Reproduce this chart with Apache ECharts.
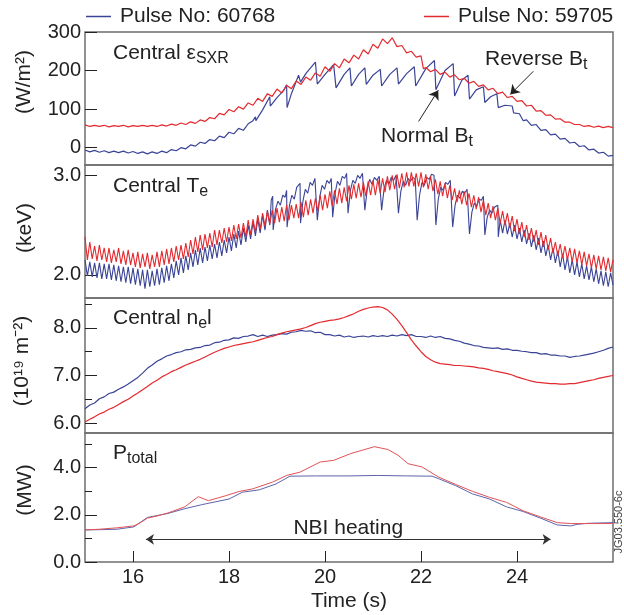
<!DOCTYPE html>
<html><head><meta charset="utf-8">
<script src="https://cdn.jsdelivr.net/npm/echarts@6/dist/echarts.min.js"></script>
<style>html,body{margin:0;padding:0;background:#fff}#c{width:624px;height:615px}</style>
</head><body><div id="c"></div>
<script>
const FONT = "'Liberation Sans', Arial, Helvetica, sans-serif";
const BLUE = '#3a4496', RED = '#e32a2f';
const nameBlue = 'Pulse No: 60768', nameRed = 'Pulse No: 59705';

const timeTicks = [16, 18, 20, 22, 24];
const sxrTicks = [0, 100, 200, 300];
const teTicks = [2.0, 3.0];
const neTicks = [6.0, 7.0, 8.0];
const neMinor = [6.5, 7.5, 8.5];
const pTicks = [0.0, 2.0, 4.0];
const pMinor = [1, 3, 5];

const sxrRed = [[15.0,59],[15.1,55],[15.2,58],[15.3,55],[15.4,58],[15.5,54],[15.6,57],[15.7,55],[15.8,58],[15.9,54],[16.0,57],[16.1,55],[16.2,58],[16.3,55],[16.4,58],[16.5,55],[16.6,59],[16.7,56],[16.8,61],[16.9,58],[17.0,64],[17.1,60],[17.2,67],[17.3,63],[17.4,72],[17.5,68],[17.6,78],[17.7,75],[17.8,89],[17.9,85],[18.0,99],[18.1,93],[18.2,106],[18.3,100],[18.4,116],[18.5,110],[18.6,128],[18.7,120],[18.8,140],[18.9,133],[19.0,152],[19.1,142],[19.2,162],[19.3,153],[19.4,173],[19.5,164],[19.6,183],[19.7,175],[19.8,194],[19.9,185],[20.0,210],[20.1,198],[20.2,218],[20.3,207],[20.4,230],[20.5,220],[20.6,240],[20.7,230],[20.8,254],[20.9,243],[21.0,268],[21.1,258],[21.2,282],[21.3,270],[21.4,285],[21.5,262],[21.6,265],[21.7,246],[21.8,250],[21.9,235],[22.0,238],[22.05,205],[22.1,208],[22.2,197],[22.3,203],[22.4,190],[22.5,196],[22.6,183],[22.7,189],[22.8,176],[22.9,180],[23.0,167],[23.1,172],[23.2,159],[23.3,163],[23.4,150],[23.5,154],[23.6,140],[23.7,144],[23.8,130],[23.9,133],[24.0,120],[24.1,122],[24.2,108],[24.3,110],[24.4,95],[24.5,96],[24.6,84],[24.7,85],[24.8,74],[24.9,75],[25.0,66],[25.1,66],[25.2,60],[25.3,60],[25.4,55],[25.5,57],[25.6,53],[25.7,56],[25.8,52],[25.9,55],[26.0,52]];

const sxrBlue = [[15.0,-6],[15.1,-11],[15.2,-7],[15.3,-12],[15.4,-8],[15.5,-13],[15.6,-9],[15.7,-13],[15.8,-9],[15.9,-14],[16.0,-10],[16.1,-15],[16.2,-11],[16.3,-16],[16.4,-11],[16.5,-15],[16.6,-9],[16.7,-13],[16.8,-5],[16.9,-8],[17.0,0],[17.1,-3],[17.2,7],[17.3,4],[17.4,14],[17.5,11],[17.6,21],[17.7,18],[17.8,30],[17.9,26],[18.0,40],[18.1,36],[18.2,50],[18.3,45],[18.4,62],[18.5,70],[18.55,80],[18.56,70],[18.7,98],[18.85,132],[18.86,108],[19.0,130],[19.15,150],[19.2,163],[19.21,104],[19.3,140],[19.45,188],[19.48,192],[19.49,170],[19.6,192],[19.8,222],[19.83,224],[19.84,165],[20.0,190],[20.18,215],[20.22,218],[20.23,155],[20.4,190],[20.52,207],[20.54,209],[20.55,160],[20.7,190],[20.83,207],[20.85,208],[20.86,164],[21.0,188],[21.15,203],[21.17,204],[21.18,160],[21.35,190],[21.5,207],[21.52,208],[21.53,165],[21.7,192],[21.86,210],[21.88,212],[21.89,160],[22.1,205],[22.28,226],[22.3,228],[22.31,150],[22.5,200],[22.67,218],[22.69,220],[22.7,134],[22.85,175],[22.98,188],[23.0,190],[23.01,126],[23.15,150],[23.3,158],[23.32,160],[23.33,117],[23.45,132],[23.58,140],[23.6,143],[23.61,104],[23.75,110],[23.9,108],[23.92,112],[23.93,90],[24.05,88],[24.13,70],[24.2,72],[24.3,58],[24.4,60],[24.5,45],[24.6,47],[24.7,33],[24.8,35],[24.9,22],[25.0,24],[25.1,12],[25.2,14],[25.3,3],[25.4,5],[25.5,-6],[25.6,-4],[25.7,-14],[25.8,-12],[25.9,-22],[26.0,-20]];

const teRed = [[15.00,2.38],[15.05,2.15],[15.10,2.33],[15.15,2.16],[15.20,2.29],[15.25,2.14],[15.30,2.30],[15.35,2.15],[15.40,2.27],[15.45,2.13],[15.50,2.27],[15.55,2.12],[15.60,2.25],[15.65,2.13],[15.70,2.27],[15.75,2.11],[15.80,2.24],[15.85,2.10],[15.90,2.25],[15.95,2.10],
[16.00,2.22],[16.05,2.08],[16.10,2.23],[16.15,2.07],[16.20,2.21],[16.25,2.08],[16.30,2.22],[16.35,2.06],[16.40,2.20],[16.45,2.08],[16.50,2.23],[16.55,2.08],[16.60,2.24],[16.65,2.10],[16.70,2.26],[16.75,2.11],[16.80,2.27],[16.85,2.13],[16.90,2.29],[16.95,2.15],
[17.00,2.30],[17.05,2.16],[17.10,2.32],[17.15,2.18],[17.20,2.35],[17.25,2.21],[17.30,2.38],[17.35,2.23],[17.40,2.40],[17.45,2.25],[17.50,2.41],[17.55,2.27],[17.60,2.42],[17.65,2.28],[17.70,2.45],[17.75,2.30],[17.80,2.45],[17.85,2.32],[17.90,2.47],[17.95,2.33],
[18.00,2.48],[18.05,2.34],[18.10,2.50],[18.15,2.36],[18.20,2.51],[18.25,2.37],[18.30,2.52],[18.35,2.38],[18.40,2.55],[18.45,2.40],[18.50,2.56],[18.55,2.43],[18.60,2.60],[18.65,2.46],[18.70,2.62],[18.75,2.49],[18.80,2.64],[18.85,2.51],[18.90,2.65],[18.95,2.52],
[19.00,2.67],[19.05,2.53],[19.10,2.68],[19.15,2.54],[19.20,2.70],[19.25,2.55],[19.30,2.70],[19.35,2.57],[19.40,2.71],[19.45,2.57],[19.50,2.73],[19.55,2.58],[19.60,2.75],[19.65,2.60],[19.70,2.76],[19.75,2.62],[19.80,2.77],[19.85,2.64],[19.90,2.80],[19.95,2.65],
[20.00,2.81],[20.05,2.67],[20.10,2.84],[20.15,2.69],[20.20,2.85],[20.25,2.71],[20.30,2.87],[20.35,2.72],[20.40,2.88],[20.45,2.74],[20.50,2.90],[20.55,2.76],[20.60,2.91],[20.65,2.77],[20.70,2.92],[20.75,2.78],[20.80,2.93],[20.85,2.79],[20.90,2.94],[20.95,2.80],
[21.00,2.95],[21.05,2.80],[21.10,2.96],[21.15,2.82],[21.20,2.97],[21.25,2.83],[21.30,2.99],[21.35,2.85],[21.40,3.00],[21.45,2.86],[21.50,3.01],[21.55,2.87],[21.60,3.02],[21.65,2.88],[21.70,3.03],[21.75,2.89],[21.80,3.03],[21.85,2.89],[21.90,3.02],[21.95,2.89],
[22.00,3.03],[22.05,2.88],[22.10,3.01],[22.15,2.86],[22.20,2.99],[22.25,2.84],[22.30,2.96],[22.35,2.81],[22.40,2.94],[22.45,2.79],[22.50,2.92],[22.55,2.77],[22.60,2.90],[22.65,2.75],[22.70,2.87],[22.75,2.73],[22.80,2.85],[22.85,2.71],[22.90,2.84],[22.95,2.70],
[23.00,2.82],[23.05,2.68],[23.10,2.80],[23.15,2.66],[23.20,2.78],[23.25,2.63],[23.30,2.75],[23.35,2.60],[23.40,2.72],[23.45,2.57],[23.50,2.69],[23.55,2.55],[23.60,2.67],[23.65,2.52],[23.70,2.64],[23.75,2.50],[23.80,2.62],[23.85,2.47],[23.90,2.59],[23.95,2.44],
[24.00,2.56],[24.05,2.41],[24.10,2.53],[24.15,2.38],[24.20,2.50],[24.25,2.35],[24.30,2.47],[24.35,2.33],[24.40,2.45],[24.45,2.30],[24.50,2.43],[24.55,2.28],[24.60,2.40],[24.65,2.25],[24.70,2.37],[24.75,2.22],[24.80,2.33],[24.85,2.19],[24.90,2.31],[24.95,2.17],
[25.00,2.29],[25.05,2.15],[25.10,2.27],[25.15,2.13],[25.20,2.26],[25.25,2.12],[25.30,2.24],[25.35,2.10],[25.40,2.23],[25.45,2.09],[25.50,2.21],[25.55,2.07],[25.60,2.20],[25.65,2.06],[25.70,2.19],[25.75,2.05],[25.80,2.18],[25.85,2.04],[25.90,2.17],[25.95,2.03],[26.00,2.15]];

const teBlue = [[15.00,2.15],[15.05,1.99],[15.10,2.13],[15.15,1.98],[15.20,2.12],[15.25,1.97],[15.30,2.12],[15.35,1.96],[15.40,2.11],[15.45,1.96],[15.50,2.11],[15.55,1.95],[15.60,2.10],[15.65,1.94],[15.70,2.09],[15.75,1.93],[15.80,2.08],[15.85,1.92],[15.90,2.08],[15.95,1.91],
[16.00,2.07],[16.05,1.90],[16.10,2.06],[16.15,1.89],[16.20,2.05],[16.25,1.86],[16.30,2.05],[16.35,1.88],[16.40,2.04],[16.45,1.89],[16.50,2.06],[16.55,1.90],[16.60,2.07],[16.65,1.92],[16.70,2.09],[16.75,1.94],[16.80,2.11],[16.85,1.97],[16.90,2.14],[16.95,2.00],
[17.00,2.17],[17.05,2.02],[17.10,2.19],[17.15,2.05],[17.20,2.22],[17.25,2.08],[17.30,2.25],[17.35,2.10],[17.40,2.27],[17.45,2.12],[17.50,2.28],[17.55,2.14],[17.60,2.30],[17.65,2.16],[17.70,2.31],[17.75,2.17],[17.80,2.33],[17.85,2.19],[17.90,2.35],[17.95,2.22],
[18.00,2.38],[18.05,2.24],[18.10,2.41],[18.15,2.27],[18.20,2.44],[18.25,2.30],[18.30,2.47],[18.35,2.33],[18.40,2.50],[18.45,2.36],[18.50,2.53],[18.55,2.39],[18.60,2.56],[18.65,2.42],[18.70,2.60],[18.75,2.45],[18.80,2.65],[18.85,2.50],[18.88,2.75],[18.91,2.79],[18.92,2.45],
[18.97,2.66],[19.02,2.74],[19.07,2.70],[19.12,2.80],[19.17,2.78],[19.20,2.85],[19.21,2.48],
[19.26,2.70],[19.31,2.80],[19.36,2.76],[19.41,2.88],[19.45,2.86],[19.48,2.92],[19.49,2.52],
[19.54,2.74],[19.59,2.86],[19.64,2.82],[19.69,2.93],[19.74,2.90],[19.79,2.97],[19.83,2.99],[19.84,2.55],
[19.89,2.78],[19.94,2.90],[19.99,2.86],[20.04,2.95],[20.09,2.92],[20.13,2.97],[20.15,2.97],[20.16,2.58],
[20.21,2.82],[20.26,2.94],[20.31,2.90],[20.36,2.99],[20.41,2.97],[20.45,3.02],[20.47,3.02],[20.48,2.62],
[20.53,2.85],[20.58,2.95],[20.63,2.92],[20.68,3.00],[20.73,2.97],[20.78,3.02],[20.82,3.02],[20.83,2.65],
[20.88,2.86],[20.93,2.96],[20.98,2.91],[21.03,2.98],[21.08,2.95],[21.13,2.99],[21.17,2.99],[21.18,2.65],
[21.23,2.86],[21.28,2.95],[21.33,2.91],[21.38,2.98],[21.43,2.95],[21.48,3.00],[21.52,2.99],[21.53,2.62],
[21.58,2.84],[21.63,2.94],[21.68,2.90],[21.73,2.97],[21.78,2.94],[21.83,2.98],[21.88,2.96],[21.91,2.97],[21.92,2.55],
[21.97,2.80],[22.02,2.93],[22.07,2.90],[22.12,2.98],[22.17,2.96],[22.22,3.01],[22.27,3.00],[22.30,3.02],[22.31,2.50],
[22.36,2.76],[22.41,2.88],[22.46,2.85],[22.51,2.93],[22.56,2.91],[22.61,2.95],[22.65,2.96],[22.66,2.48],
[22.71,2.70],[22.76,2.80],[22.81,2.77],[22.86,2.84],[22.91,2.82],[22.96,2.86],[23.00,2.87],[23.01,2.41],
[23.06,2.63],[23.11,2.72],[23.16,2.69],[23.21,2.76],[23.26,2.75],[23.30,2.79],[23.32,2.80],[23.33,2.40],
[23.38,2.58],[23.43,2.65],[23.48,2.62],[23.53,2.68],[23.57,2.68],[23.60,2.70],[23.61,2.38],
[23.65,2.55],[23.70,2.42],[23.75,2.55],[23.80,2.41],[23.85,2.52],[23.90,2.38],[23.95,2.50],[24.00,2.36],[24.05,2.47],[24.10,2.33],[24.15,2.45],[24.20,2.31],[24.25,2.42],[24.30,2.28],[24.35,2.40],[24.40,2.25],[24.45,2.37],[24.50,2.22],[24.55,2.34],[24.60,2.19],[24.65,2.30],[24.70,2.15],[24.75,2.27],[24.80,2.12],[24.85,2.24],[24.90,2.08],[24.95,2.21],
[25.00,2.05],[25.05,2.18],[25.10,2.02],[25.15,2.15],[25.20,2.00],[25.25,2.13],[25.30,1.98],[25.35,2.11],[25.40,1.96],[25.45,2.09],[25.50,1.95],[25.55,2.08],[25.60,1.93],[25.65,2.06],[25.70,1.91],[25.75,2.04],[25.80,1.89],[25.85,2.03],[25.90,1.88],[25.95,2.02],[26.00,1.90]];

const neBlue = [[15.0,6.30],[15.1,6.38],[15.2,6.42],[15.3,6.51],[15.4,6.55],[15.5,6.62],[15.6,6.65],[15.7,6.71],[15.8,6.76],[15.9,6.82],[16.0,6.89],[16.1,6.96],[16.2,7.05],[16.3,7.15],[16.4,7.22],[16.5,7.30],[16.6,7.35],[16.7,7.41],[16.8,7.44],[16.9,7.48],[17.0,7.50],[17.1,7.54],[17.2,7.55],[17.3,7.58],[17.4,7.59],[17.5,7.63],[17.6,7.64],[17.7,7.69],[17.8,7.70],[17.9,7.74],[18.0,7.75],[18.1,7.79],[18.2,7.78],[18.3,7.82],[18.4,7.83],[18.5,7.86],[18.6,7.82],[18.7,7.85],[18.8,7.82],[18.9,7.85],[19.0,7.86],[19.1,7.88],[19.2,7.87],[19.3,7.91],[19.4,7.92],[19.5,7.95],[19.6,7.93],[19.7,7.94],[19.8,7.90],[19.9,7.91],[20.0,7.86],[20.1,7.86],[20.2,7.83],[20.3,7.85],[20.4,7.81],[20.5,7.83],[20.6,7.80],[20.7,7.82],[20.8,7.83],[20.9,7.81],[21.0,7.84],[21.1,7.82],[21.2,7.84],[21.3,7.82],[21.4,7.85],[21.5,7.83],[21.6,7.86],[21.7,7.84],[21.8,7.86],[21.9,7.82],[22.0,7.82],[22.1,7.80],[22.2,7.83],[22.3,7.80],[22.4,7.82],[22.5,7.78],[22.6,7.77],[22.7,7.74],[22.8,7.72],[22.9,7.68],[23.0,7.66],[23.1,7.63],[23.2,7.62],[23.3,7.59],[23.4,7.58],[23.5,7.57],[23.6,7.58],[23.7,7.55],[23.8,7.56],[23.9,7.53],[24.0,7.53],[24.1,7.51],[24.2,7.50],[24.3,7.48],[24.4,7.48],[24.5,7.45],[24.6,7.46],[24.7,7.43],[24.8,7.43],[24.9,7.41],[25.0,7.41],[25.1,7.38],[25.2,7.40],[25.3,7.41],[25.4,7.43],[25.5,7.45],[25.6,7.47],[25.7,7.50],[25.8,7.53],[25.9,7.57],[26.0,7.60]];

const neRed = [[15.0,6.02],[15.1,6.08],[15.2,6.13],[15.3,6.19],[15.4,6.23],[15.5,6.29],[15.6,6.33],[15.7,6.39],[15.8,6.45],[15.9,6.50],[16.0,6.57],[16.1,6.63],[16.2,6.70],[16.3,6.77],[16.4,6.84],[16.5,6.90],[16.6,6.97],[16.7,7.02],[16.8,7.08],[16.9,7.12],[17.0,7.17],[17.1,7.22],[17.2,7.26],[17.3,7.30],[17.4,7.34],[17.5,7.39],[17.6,7.44],[17.7,7.49],[17.8,7.53],[17.9,7.57],[18.0,7.60],[18.1,7.63],[18.2,7.65],[18.3,7.67],[18.4,7.69],[18.5,7.71],[18.6,7.74],[18.7,7.77],[18.8,7.80],[18.9,7.82],[19.0,7.86],[19.1,7.89],[19.2,7.92],[19.3,7.94],[19.4,7.96],[19.5,7.98],[19.6,8.01],[19.7,8.05],[19.8,8.09],[19.9,8.12],[20.0,8.14],[20.1,8.16],[20.2,8.17],[20.3,8.19],[20.4,8.22],[20.5,8.26],[20.6,8.30],[20.7,8.35],[20.8,8.39],[20.9,8.42],[21.0,8.44],[21.1,8.45],[21.2,8.43],[21.3,8.38],[21.4,8.29],[21.5,8.18],[21.6,8.05],[21.7,7.90],[21.8,7.75],[21.9,7.62],[22.0,7.50],[22.1,7.40],[22.2,7.33],[22.3,7.28],[22.4,7.25],[22.5,7.24],[22.6,7.23],[22.7,7.21],[22.8,7.21],[22.9,7.20],[23.0,7.19],[23.1,7.18],[23.2,7.16],[23.3,7.15],[23.4,7.13],[23.5,7.10],[23.6,7.08],[23.7,7.06],[23.8,7.04],[23.9,7.01],[24.0,6.97],[24.1,6.94],[24.2,6.91],[24.3,6.88],[24.4,6.86],[24.5,6.85],[24.6,6.84],[24.7,6.83],[24.8,6.83],[24.9,6.82],[25.0,6.82],[25.1,6.83],[25.2,6.83],[25.3,6.85],[25.4,6.87],[25.5,6.89],[25.6,6.91],[25.7,6.94],[25.8,6.96],[25.9,6.98],[26.0,7.00]];

const pRed = [[15.0,1.36],[15.3,1.39],[15.67,1.45],[16.02,1.53],[16.15,1.66],[16.30,1.86],[16.5,1.95],[16.73,2.08],[17.08,2.34],[17.36,2.77],[17.57,2.60],[17.93,2.81],[18.21,2.99],[18.49,3.10],[18.91,3.39],[19.20,3.67],[19.48,3.81],[19.90,4.24],[20.18,4.31],[20.54,4.60],[21.03,4.89],[21.31,4.77],[21.52,4.53],[21.73,4.17],[22.02,4.03],[22.37,3.60],[22.72,3.29],[23.07,3.00],[23.43,2.74],[23.78,2.53],[24.13,2.17],[24.49,1.91],[24.84,1.67],[25.12,1.63],[25.5,1.63],[26.0,1.63]];

const pBlue = [[15.0,1.36],[15.3,1.37],[15.67,1.39],[16.02,1.49],[16.30,1.89],[16.73,2.06],[17.08,2.26],[17.43,2.43],[18.0,2.67],[18.28,2.96],[18.63,3.06],[18.98,3.31],[19.27,3.64],[19.8,3.65],[20.5,3.65],[21.10,3.67],[21.7,3.65],[22.23,3.64],[22.37,3.53],[22.72,3.24],[23.07,2.89],[23.43,2.67],[23.78,2.34],[24.13,2.14],[24.49,1.86],[24.84,1.57],[25.12,1.53],[25.26,1.60],[25.47,1.64],[26.0,1.67]];

const chart = echarts.init(document.getElementById('c'), null, {renderer: 'canvas'});

const panels = [
  {top: 32, height: 133, min: -45, max: 300, ticks: sxrTicks, dec: 0},
  {top: 165, height: 133, min: 1.767, max: 3.104, ticks: teTicks, dec: 1},
  {top: 298, height: 135, min: 5.79, max: 8.63, ticks: neTicks, dec: 1},
  {top: 433, height: 129, min: 0, max: 5.47, ticks: pTicks, dec: 1}
];

const grid = panels.map(p => ({left: 85, width: 528, top: p.top, height: p.height, show: true,
  borderColor: '#6e6e6e', borderWidth: 1.5, backgroundColor: 'transparent'}));

const xAxis = panels.map((p, i) => ({
  gridIndex: i, type: 'value', min: 15, max: 26,
  axisLine: {show: false}, splitLine: {show: false},
  axisTick: i === 3 ? {show: true, inside: true, length: 11, customValues: timeTicks, lineStyle: {color: '#222', width: 1}} : {show: false},
  axisLabel: i === 3 ? {show: true, customValues: timeTicks, fontSize: 20, color: '#222', fontFamily: FONT, margin: 5} : {show: false},
  name: i === 3 ? 'Time (s)' : '', nameLocation: 'middle', nameGap: 29,
  nameTextStyle: {fontSize: 21, color: '#222', fontFamily: FONT}
}));

const yAxis = panels.map((p, i) => ({
  gridIndex: i, type: 'value', position: 'left', min: p.min, max: p.max,
  axisLine: {show: false}, splitLine: {show: false},
  axisTick: {show: true, inside: true, length: 12, customValues: p.ticks, lineStyle: {color: '#222', width: 1}},
  axisLabel: {show: true, customValues: p.ticks, fontSize: 20, color: '#222', fontFamily: FONT, margin: 4,
    formatter: v => Number(v).toFixed(p.dec)}
}));
yAxis.push({gridIndex: 2, type: 'value', position: 'left', offset: 0, min: panels[2].min, max: panels[2].max,
  axisLine: {show: false}, splitLine: {show: false},
  axisLabel: {show: false}, axisTick: {show: true, inside: true, length: 7, customValues: neMinor, lineStyle: {color: '#222', width: 1}}});
yAxis.push({gridIndex: 3, type: 'value', position: 'left', offset: 0, min: panels[3].min, max: panels[3].max,
  axisLine: {show: false}, splitLine: {show: false},
  axisLabel: {show: false}, axisTick: {show: true, inside: true, length: 7, customValues: pMinor, lineStyle: {color: '#222', width: 1}}});

function line(name, color, data, idx, width, extra) {
  return Object.assign({
    type: 'line', name: name, data: data, xAxisIndex: idx, yAxisIndex: idx,
    showSymbol: false, symbol: 'none', animation: false, silent: true,
    lineStyle: {color: color, width: width}, itemStyle: {color: color}
  }, extra || {});
}

const arrowStyle = {color: '#222', width: 1, type: 'solid'};

const series = [
  line(nameBlue, BLUE, sxrBlue, 0, 1.2),
  line(nameRed, RED, sxrRed, 0, 1.2, {
    markLine: {silent: true, animation: false, symbol: ['none', 'arrow'], symbolSize: 9,
      lineStyle: arrowStyle, label: {show: false}, emphasis: {disabled: true},
      data: [
        [{coord: [21.95, 68]}, {coord: [22.36, 149]}],
        [{coord: [24.34, 198]}, {coord: [23.86, 138]}]
      ]}
  }),
  line(nameBlue, BLUE, teBlue, 1, 1.1),
  line(nameRed, RED, teRed, 1, 1.1),
  line(nameBlue, BLUE, neBlue, 2, 1.2),
  line(nameRed, RED, neRed, 2, 1.2),
  line(nameBlue, '#5c64ad', pBlue, 3, 1),
  line(nameRed, '#e25358', pRed, 3, 1, {
    markLine: {silent: true, animation: false, symbol: ['arrow', 'arrow'], symbolSize: 8,
      lineStyle: {color: '#333', width: 1, type: 'solid'}, emphasis: {disabled: true},
      label: {show: true, formatter: 'NBI heating', position: 'insideMiddleTop', distance: 1,
        fontSize: 21, color: '#222', fontFamily: FONT},
      data: [[{coord: [16.27, 0.96]}, {coord: [24.7, 0.96]}]]}
  })
];

const rich = {
  m: {fontSize: 21, fontFamily: FONT, fill: '#222', verticalAlign: 'middle'},
  s: {fontSize: 16, fontFamily: FONT, fill: '#222', verticalAlign: 'middle', padding: [11, 0, 0, 0]}
};
function rtext(x, y, text) {
  return {type: 'text', x: x, y: y, silent: true,
    style: {text: text, rich: rich, fontSize: 21, fontFamily: FONT, fill: '#222', align: 'left', verticalAlign: 'top'}};
}
function vtext(x, y, text, size, color) {
  return {type: 'text', x: x, y: y, rotation: Math.PI / 2, silent: true,
    style: {text: text, fontSize: size, fontFamily: FONT, fill: color, align: 'center', verticalAlign: 'middle'}};
}

const graphic = [
  rtext(113, 40, '{m|Central ε}{s|SXR}'),
  rtext(113, 173, '{m|Central T}{s|e}'),
  rtext(113, 305, '{m|Central n}{s|e}{m|l}'),
  rtext(113, 440, '{m|P}{s|total}'),
  rtext(381, 123, '{m|Normal B}{s|t}'),
  rtext(485, 46, '{m|Reverse B}{s|t}'),
  vtext(24, 82, '(W/m²)', 21, '#222'),
  vtext(25, 228, '(keV)', 21, '#222'),
  vtext(22, 361, '(10¹⁹ m⁻²)', 21, '#222'),
  vtext(25, 490, '(MW)', 21, '#222'),
  vtext(619, 522, 'JG03.550-6c', 11, '#444')
];

const legendCommon = {top: 6, padding: 0, icon: 'rect', itemWidth: 25, itemHeight: 1.5, selectedMode: false,
  textStyle: {fontSize: 21, color: '#222', fontFamily: FONT, padding: [0, 0, 0, 4]}};

chart.setOption({
  animation: false,
  backgroundColor: '#fff',
  textStyle: {fontFamily: FONT},
  legend: [
    Object.assign({left: 86, data: [nameBlue]}, legendCommon),
    Object.assign({left: 424, data: [nameRed]}, legendCommon)
  ],
  grid: grid, xAxis: xAxis, yAxis: yAxis, series: series, graphic: graphic
});
</script></body></html>
